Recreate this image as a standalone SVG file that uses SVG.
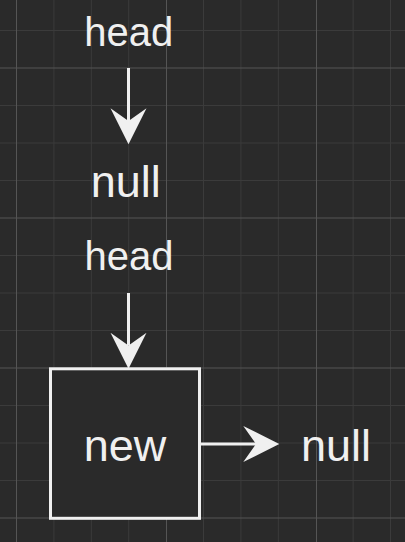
<svg xmlns="http://www.w3.org/2000/svg" width="405" height="542" viewBox="0 0 405 542">
  <style>
    .minor { stroke: #3b3b3b; stroke-width: 1; }
    .major { stroke: #555555; stroke-width: 1; }
    .lbl { font-family: "Liberation Sans", Arial, sans-serif; fill: #f0f0f0; text-anchor: middle; }
    .edge { stroke: #f0f0f0; stroke-width: 3; fill: none; }
    .box { stroke: #f0f0f0; stroke-width: 3; fill: #2a2a2a; }
  </style>
  <defs>
    <marker id="arrow" markerUnits="userSpaceOnUse" markerWidth="36" markerHeight="36" viewBox="0 0 34 34" refX="12" refY="17" orient="auto" overflow="visible">
      <path d="M34,17 L0,0 L12,17 L0,34 Z" fill="#f0f0f0"/>
    </marker>
  </defs>
  <rect x="0" y="0" width="405" height="542" fill="#2a2a2a"/>
  <g id="grid">
    <g class="minor">
      <line x1="53.9" y1="0" x2="53.9" y2="542"/>
      <line x1="91.3" y1="0" x2="91.3" y2="542"/>
      <line x1="128.7" y1="0" x2="128.7" y2="542"/>
      <line x1="203.5" y1="0" x2="203.5" y2="542"/>
      <line x1="240.9" y1="0" x2="240.9" y2="542"/>
      <line x1="278.3" y1="0" x2="278.3" y2="542"/>
      <line x1="353.1" y1="0" x2="353.1" y2="542"/>
      <line x1="390.5" y1="0" x2="390.5" y2="542"/>
      <line x1="0" y1="30.5" x2="405" y2="30.5"/>
      <line x1="0" y1="105.5" x2="405" y2="105.5"/>
      <line x1="0" y1="143" x2="405" y2="143"/>
      <line x1="0" y1="180.5" x2="405" y2="180.5"/>
      <line x1="0" y1="255.5" x2="405" y2="255.5"/>
      <line x1="0" y1="293" x2="405" y2="293"/>
      <line x1="0" y1="330.5" x2="405" y2="330.5"/>
      <line x1="0" y1="405.5" x2="405" y2="405.5"/>
      <line x1="0" y1="443" x2="405" y2="443"/>
      <line x1="0" y1="480.5" x2="405" y2="480.5"/>
    </g>
    <g class="major">
      <line x1="16.5" y1="0" x2="16.5" y2="542"/>
      <line x1="166.5" y1="0" x2="166.5" y2="542"/>
      <line x1="316.5" y1="0" x2="316.5" y2="542"/>
      <line x1="0" y1="68" x2="405" y2="68"/>
      <line x1="0" y1="218" x2="405" y2="218"/>
      <line x1="0" y1="368" x2="405" y2="368"/>
      <line x1="0" y1="518" x2="405" y2="518"/>
    </g>
  </g>
  <g id="connectors">
    <line class="edge" x1="128.5" y1="68" x2="128.5" y2="121" marker-end="url(#arrow)"/>
    <line class="edge" x1="128.5" y1="293" x2="128.5" y2="345.5" marker-end="url(#arrow)"/>
    <line class="edge" x1="200" y1="444" x2="256" y2="444" marker-end="url(#arrow)"/>
  </g>
  <g id="head1"><text class="lbl" x="128.8" y="46" font-size="40">head</text></g>
  <g id="null1"><text class="lbl" x="125.8" y="196.7" font-size="45">null</text></g>
  <g id="head2"><text class="lbl" x="129" y="270" font-size="40">head</text></g>
  <g id="new">
    <rect class="box" x="50.5" y="368.8" width="149" height="149.5"/>
    <text class="lbl" x="125" y="460.7" font-size="45">new</text>
  </g>
  <g id="null2"><text class="lbl" x="336" y="460.7" font-size="45">null</text></g>
</svg>
